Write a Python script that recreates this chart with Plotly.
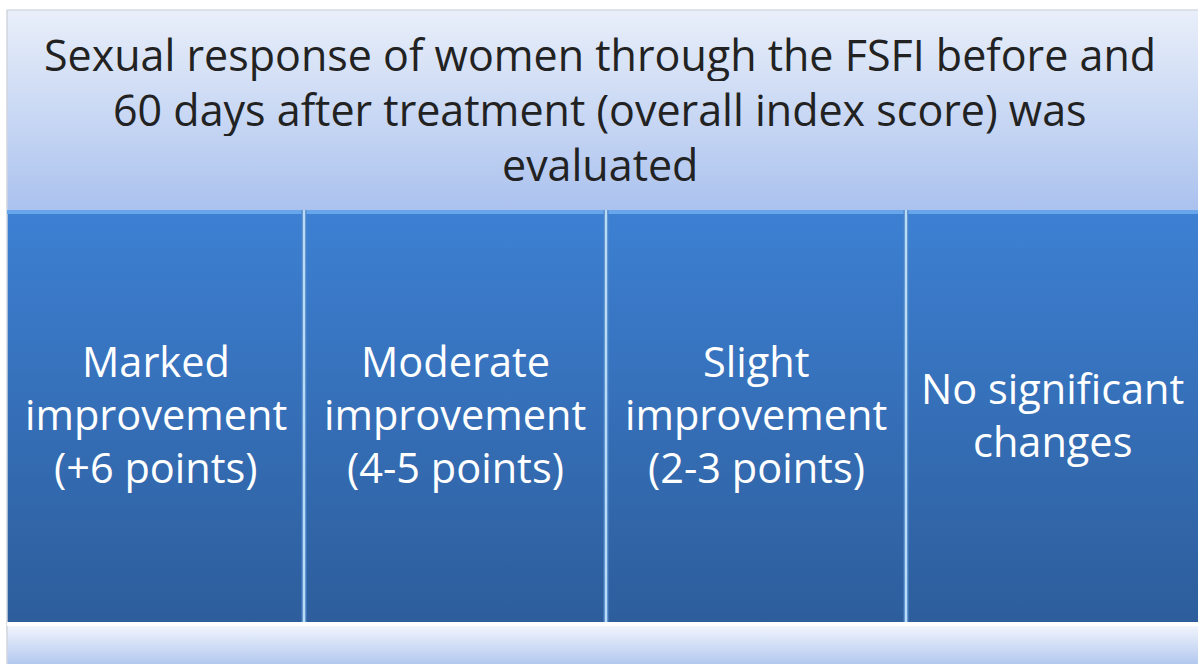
import plotly.graph_objects as go

W, H = 1198, 664

header_lines = [
    "Sexual response of women through the FSFI before and",
    "60 days after treatment (overall index score) was",
    "evaluated",
]
categories = [
    ["Marked", "improvement", "(+6 points)"],
    ["Moderate", "improvement", "(4-5 points)"],
    ["Slight", "improvement", "(2-3 points)"],
    ["No significant", "changes"],
]
col_edges = [7, 304, 606, 906, 1198]

FONT = "Open Sans"
LINE = 53
HLINE = 55

def Y(p):
    return H - p

fig = go.Figure()

def grad_rect(x0, x1, y0, y1, c_top, c_bot):
    fig.add_trace(go.Scatter(
        x=[x0, x1, x1, x0, x0], y=[Y(y0), Y(y0), Y(y1), Y(y1), Y(y0)],
        mode="lines", line=dict(width=0), fill="toself",
        fillgradient=dict(type="vertical", colorscale=[[0, c_bot], [1, c_top]]),
        hoverinfo="skip", showlegend=False))

grad_rect(7, W, 10, 210, "#e9effa", "#abc2ee")
for i in range(4):
    grad_rect(col_edges[i], col_edges[i + 1], 210, 624, "#3d80d3", "#2d5d9b")
grad_rect(7, W, 624, H, "#f4f7fd", "#b3c8ef")

shapes = []
shapes.append(dict(type="line", x0=7, x1=W, y0=Y(10), y1=Y(10), line=dict(color="#d6dbe3", width=1.5)))
shapes.append(dict(type="line", x0=7, x1=7, y0=Y(10), y1=Y(H), line=dict(color="#d0d5dd", width=1.5)))
shapes.append(dict(type="rect", x0=7, x1=W, y0=Y(214), y1=Y(210), fillcolor="#68a6ec", line=dict(width=0), layer="above"))
for xe in col_edges[1:4]:
    shapes.append(dict(type="rect", x0=xe - 2.5, x1=xe + 2.5, y0=Y(624), y1=Y(210), fillcolor="#4f86c8", line=dict(width=0), layer="above"))
    shapes.append(dict(type="rect", x0=xe - 1.2, x1=xe + 1.2, y0=Y(624), y1=Y(210), fillcolor="#b8dbf6", line=dict(width=0), layer="above"))
shapes.append(dict(type="rect", x0=7, x1=W, y0=Y(626), y1=Y(622), fillcolor="#ffffff", line=dict(width=0), layer="above"))

annotations = []
hc = 110
for j, ln in enumerate(header_lines):
    yc = hc + (j - (len(header_lines) - 1) / 2) * HLINE
    annotations.append(dict(
        x=(7 + W) / 2 - 3, y=Y(yc - 1), xref="x", yref="y", text=ln, showarrow=False,
        height=HLINE - 1, borderpad=0,
        font=dict(family=FONT, size=43, color="#222222"), xanchor="center", yanchor="middle"))
cc = 415
for i, lines in enumerate(categories):
    for j, ln in enumerate(lines):
        yc = cc + (j - (len(lines) - 1) / 2) * LINE
        annotations.append(dict(
            x=(col_edges[i] + col_edges[i + 1]) / 2, y=Y(yc - 1), xref="x", yref="y", text=ln, showarrow=False,
            height=LINE - 1, borderpad=0,
            font=dict(family=FONT, size=41.5, color="#ffffff"), xanchor="center", yanchor="middle"))

fig.update_layout(
    width=W, height=H, margin=dict(l=0, r=0, t=0, b=0),
    paper_bgcolor="#ffffff", plot_bgcolor="#ffffff",
    xaxis=dict(range=[0, W], visible=False, fixedrange=True),
    yaxis=dict(range=[0, H], visible=False, fixedrange=True),
    shapes=shapes, annotations=annotations, showlegend=False)

fig.write_html("out.html", config={"displayModeBar": False},
               post_script="document.body.style.margin='0';document.body.style.overflow='hidden';")
